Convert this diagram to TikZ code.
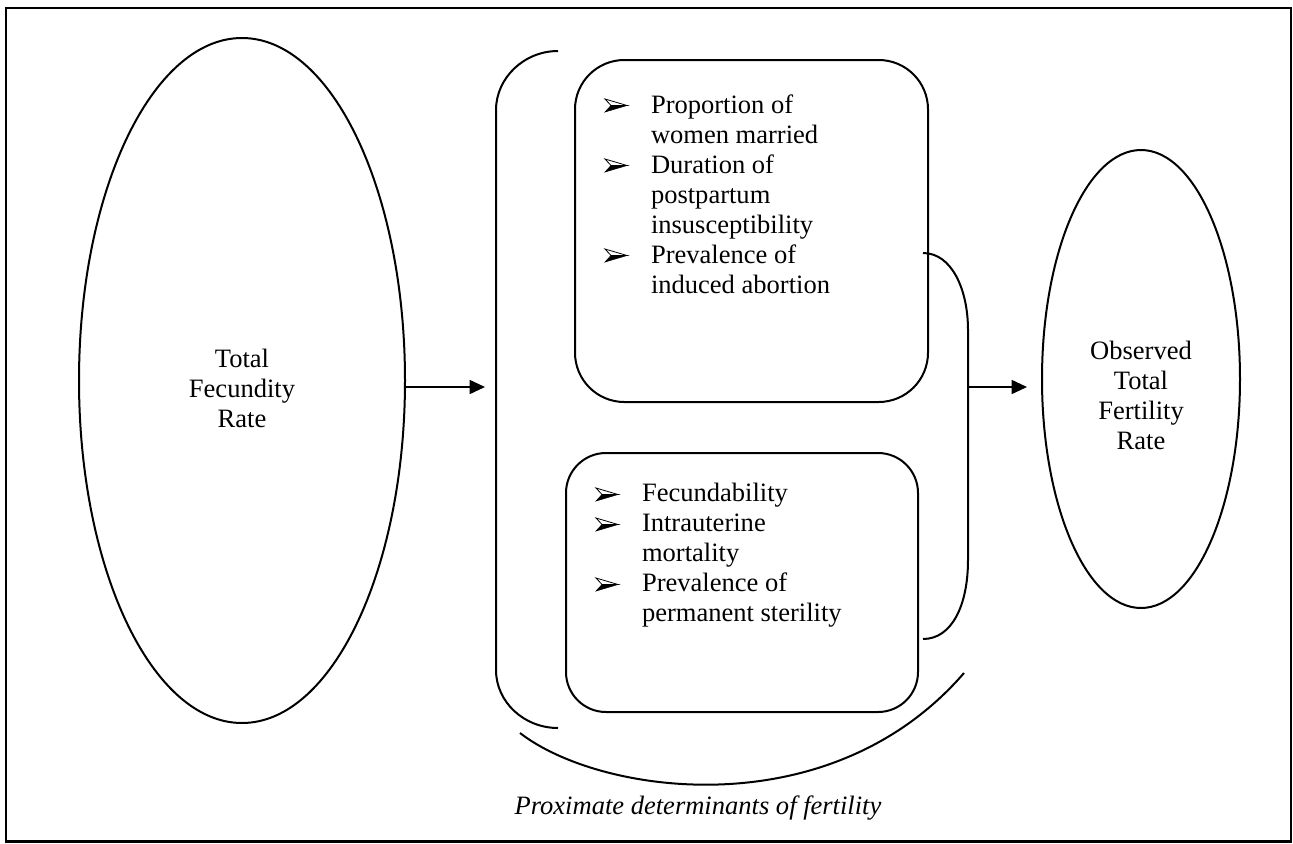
\documentclass[tikz,border=0pt]{standalone}
\usepackage{fontspec}
\setmainfont{Liberation Serif}
\usetikzlibrary{shapes.geometric,arrows.meta,calc}

% hanging indent of the list items
\newcommand{\itemgap}{\hspace*{33.75pt}}

\begin{document}
\begin{tikzpicture}[x=0.75pt,y=-0.75pt,line width=1.5pt,
  font=\fontsize{19.9}{22.5}\selectfont,
  oval/.style={ellipse,draw,inner sep=0pt},
  listbox/.style={draw,inner sep=0pt},
  label/.style={inner sep=0pt},
  arr/.style={line width=1.2pt,-{Triangle[length=11.5pt,width=10.5pt]}},
  % list marker: arrowhead with outlined upper half and filled lower half
  marker/.pic={
    \filldraw[line width=0.4pt,line join=miter] (0,13) -- (22,6.5) -- (6,6.5) -- cycle;
    \draw[line width=0.6pt,line join=miter] (0,0) -- (22,6.5) -- (6,6.5) -- cycle;}]

\useasboundingbox (0,0) rectangle (1293,843);

% outer frame
\draw[line width=1.6pt] (6,8) rectangle (1291,841.5);

% left and right ellipses
\node[oval,minimum width=244.5pt,minimum height=513.75pt] (tfr) at (242,380.5) {};
\node[label,align=center] (tfrtext) at (242,388) {Total\\Fecundity\\Rate};

\node[oval,minimum width=148.5pt,minimum height=343.5pt] (otfr) at (1141,379) {};
\node[label,align=center] (otfrtext) at (1141,395) {Observed\\Total\\Fertility\\Rate};

% the two groups of determinants
\node[listbox,rounded corners=37pt,minimum width=264.75pt,minimum height=256.5pt] (boxA) at (751.5,231) {};
\node[label,align=left,anchor=west] (textA) at (605,194)
  {\itemgap Proportion of\\\itemgap women married\\\itemgap Duration of\\\itemgap postpartum\\\itemgap insusceptibility\\\itemgap Prevalence of\\\itemgap induced abortion};
\pic at (605,99) {marker};
\pic at (605,159) {marker};
\pic at (605,249) {marker};

\node[listbox,rounded corners=30pt,minimum width=264pt,minimum height=194.25pt] (boxB) at (742,582.5) {};
\node[label,align=left,anchor=west] (textB) at (596,555)
  {\itemgap Fecundability\\\itemgap Intrauterine\\\itemgap mortality\\\itemgap Prevalence of\\\itemgap permanent sterility};
\pic at (596,488) {marker};
\pic at (596,518) {marker};
\pic at (596,578) {marker};

% brackets enclosing the determinants
\draw (558,51) .. controls (524,51) and (496,78) .. (496,110) -- (496,670)
      .. controls (496,702) and (524,728) .. (558,728);
\draw (923,253) .. controls (952,253) and (968,290) .. (968,330) -- (968,560)
      .. controls (968,605) and (952,639) .. (923,639);
\draw (520,733) .. controls (600,795) and (830,828) .. (964,673);

\coordinate (brL) at (496,387);
\coordinate (brR) at (968,387);

% arrows
\draw[arr] ($(tfr.east)+(0,6.5)$) -- ($(brL)+(-11,0)$);
\draw[arr] (brR) -- ($(otfr.west)+(-14,8)$);

% caption
\node[label,font=\fontsize{19.9}{22.5}\selectfont\itshape] (caption) at (698,808) {Proximate determinants of fertility};
\end{tikzpicture}
\end{document}
